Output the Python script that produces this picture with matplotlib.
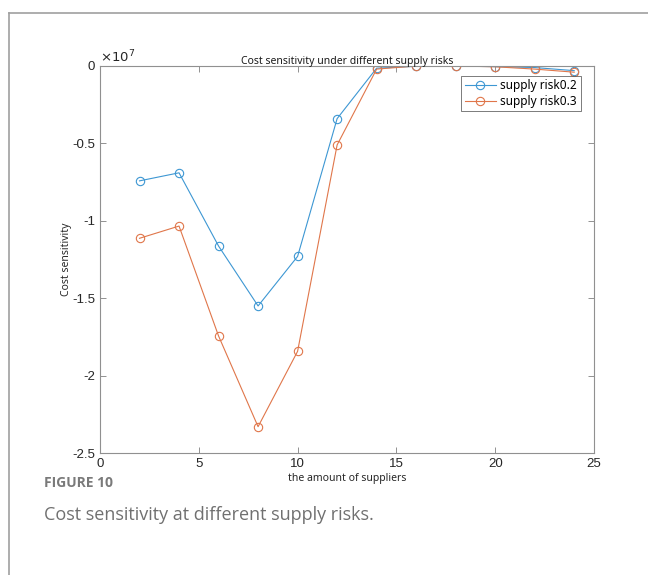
import matplotlib
matplotlib.use("Agg")
import matplotlib.pyplot as plt
from matplotlib.lines import Line2D

# data (cost sensitivity in units of 1e7)
suppliers = [2, 4, 6, 8, 10, 12, 14, 16, 18, 20, 22, 24]
risk_02 = [-0.742, -0.690, -1.163, -1.550, -1.230, -0.340, -0.014, -0.002, -0.001, -0.004, -0.010, -0.030]
risk_03 = [-1.113, -1.034, -1.744, -2.330, -1.843, -0.510, -0.020, 0.000, 0.000, -0.005, -0.020, -0.040]
labels = ['supply risk0.2', 'supply risk0.3']
colors = ['#3d97d3', '#e0764a']

xticks = [0, 5, 10, 15, 20, 25]
yticks = [0, -0.5, -1, -1.5, -2, -2.5]

plt.rcParams['font.family'] = ['Liberation Sans', 'DejaVu Sans']

fig = plt.figure(figsize=(6.48, 5.75), dpi=100)
ax = fig.add_axes([100/648, 1-453/575, 494/648, 387/575])

for ys, lab, c in zip([risk_02, risk_03], labels, colors):
    ax.plot(suppliers, ys, color=c, lw=0.8, marker='o', ms=6,
            mfc='none', mec=c, mew=0.8, label=lab)

ax.set_xlim(0, 25)
ax.set_ylim(-2.5, 0)
ax.set_xticks(xticks)
ax.set_yticks(yticks)
ax.set_yticklabels(['0', '-0.5', '-1', '-1.5', '-2', '-2.5'])
ax.tick_params(direction='in', length=4, width=0.6, color='#808080',
               labelsize=9.5, labelcolor='#262626', top=True, right=True,
               labeltop=False, labelright=False)
for s in ax.spines.values():
    s.set_color('#909090')
    s.set_linewidth(0.8)

ax.set_xlabel('the amount of suppliers', fontsize=7.5, color='#262626', labelpad=2,
              family=['Noto Sans', 'DejaVu Sans'])
ax.set_ylabel('Cost sensitivity', fontsize=7.5, color='#262626', labelpad=0,
              family=['Noto Sans', 'DejaVu Sans'])
ax.set_title('Cost sensitivity under different supply risks', fontsize=7.5,
             color='#1a1a1a', pad=1.5, family=['Noto Sans', 'DejaVu Sans'])
ax.text(0.0, 1.003, r'$\times10^7$', transform=ax.transAxes, fontsize=9.5,
        color='#262626', ha='left', va='bottom')

leg = ax.legend(loc='upper right', bbox_to_anchor=(0.985, 0.99), fontsize=8,
                frameon=True, fancybox=False, handlelength=2.6,
                borderpad=0.3, labelspacing=0.2, handletextpad=0.4,
                prop={'family': ['Noto Sans', 'DejaVu Sans'], 'size': 8.5})
leg.get_frame().set_edgecolor('#404040')
leg.get_frame().set_linewidth(0.6)

# page frame and caption
fig.add_artist(Line2D([9/648, 1.0], [1-13/575, 1-13/575], color='#a0a0a0', lw=1.2))
fig.add_artist(Line2D([9/648, 9/648], [0.0, 1-13/575], color='#a0a0a0', lw=1.2))
fig.text(44/648, 1-483/575, 'FIGURE 10', fontsize=10, fontweight='bold',
         color='#7a7a7a', va='center', family=['Open Sans', 'DejaVu Sans'])
fig.text(44/648, 1-515/575, 'Cost sensitivity at different supply risks.',
         fontsize=13, color='#707070', va='center', family=['Open Sans', 'DejaVu Sans'])

fig.savefig('out.png', dpi=100)
